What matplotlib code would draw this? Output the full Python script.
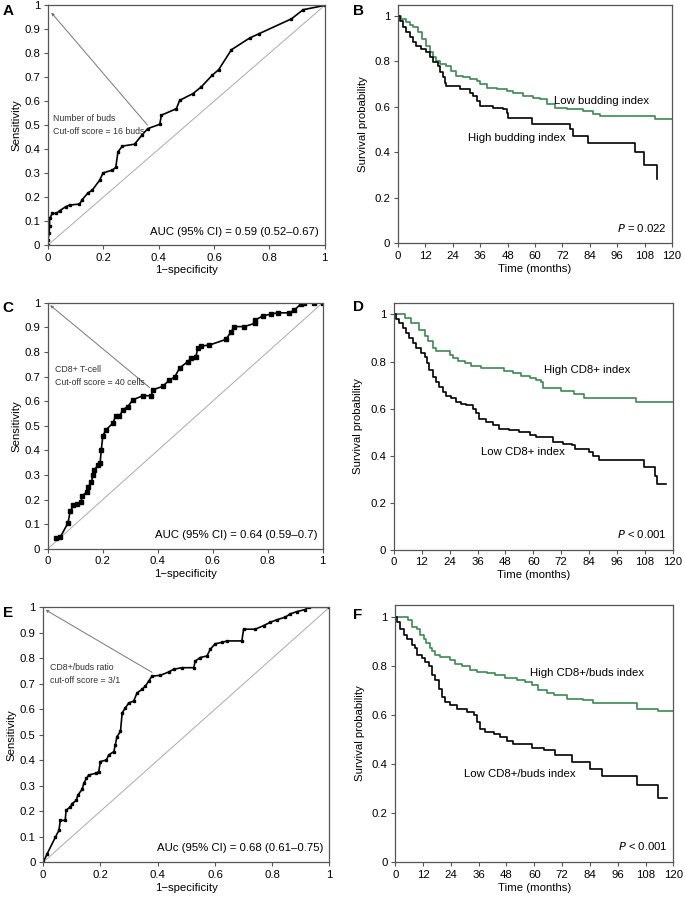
import matplotlib
matplotlib.use("Agg")
import matplotlib.pyplot as plt

plt.rcParams['font.family'] = ['Liberation Sans', 'DejaVu Sans']

GREEN = "#3b8a52"
FRAME = "#555555"
FS = 8.2

# ROC curves (1-specificity, sensitivity)
roc_a_fpr = [0, 0.0, 0.004, 0.006, 0.006, 0.016, 0.03, 0.042, 0.064, 0.078, 0.114, 0.124,
             0.145, 0.16, 0.187, 0.199, 0.233, 0.245, 0.253, 0.269, 0.313, 0.341, 0.361,
             0.404, 0.41, 0.464, 0.476, 0.524, 0.554, 0.593, 0.617, 0.663, 0.729, 0.763,
             0.88, 0.922, 1.0]
roc_a_sens = [0, 0.02, 0.05, 0.08, 0.111, 0.132, 0.132, 0.143, 0.16, 0.167, 0.171, 0.19,
              0.218, 0.229, 0.271, 0.301, 0.313, 0.324, 0.389, 0.413, 0.421, 0.461, 0.486,
              0.504, 0.542, 0.569, 0.604, 0.632, 0.66, 0.708, 0.732, 0.815, 0.864, 0.882,
              0.944, 0.982, 1.0]

roc_c_fpr = [0.03, 0.045, 0.073, 0.081, 0.093, 0.105, 0.12, 0.125, 0.142, 0.145, 0.158,
             0.164, 0.167, 0.184, 0.19, 0.194, 0.2, 0.212, 0.236, 0.246, 0.26, 0.273, 0.291,
             0.309, 0.345, 0.376, 0.382, 0.418, 0.442, 0.461, 0.479, 0.509, 0.521, 0.539,
             0.545, 0.558, 0.588, 0.648, 0.667, 0.679, 0.715, 0.752, 0.755, 0.782, 0.812,
             0.836, 0.879, 0.897, 0.921, 0.933, 0.97, 1.0]
roc_c_sens = [0.045, 0.047, 0.105, 0.153, 0.176, 0.18, 0.19, 0.216, 0.23, 0.25, 0.27,
              0.30, 0.32, 0.34, 0.35, 0.40, 0.46, 0.484, 0.51, 0.538, 0.538, 0.565, 0.578,
              0.605, 0.622, 0.622, 0.646, 0.66, 0.686, 0.697, 0.734, 0.761, 0.774, 0.781,
              0.815, 0.824, 0.828, 0.851, 0.882, 0.903, 0.903, 0.916, 0.93, 0.946, 0.954,
              0.959, 0.959, 0.97, 0.995, 1.0, 1.0, 1.0]

roc_e_fpr = [0, 0.014, 0.043, 0.055, 0.06, 0.077, 0.08, 0.095, 0.101, 0.116, 0.121, 0.136,
             0.142, 0.151, 0.159, 0.183, 0.194, 0.2, 0.221, 0.229, 0.247, 0.252, 0.258,
             0.27, 0.276, 0.287, 0.299, 0.316, 0.328, 0.345, 0.357, 0.369, 0.38, 0.409,
             0.438, 0.456, 0.485, 0.526, 0.531, 0.549, 0.572, 0.584, 0.601, 0.624, 0.642,
             0.694, 0.7, 0.741, 0.77, 0.793, 0.816, 0.845, 0.863, 0.886, 0.915, 0.927, 1.0]
roc_e_sens = [0, 0.033, 0.099, 0.125, 0.164, 0.164, 0.204, 0.217, 0.23, 0.243, 0.263,
              0.286, 0.309, 0.329, 0.342, 0.349, 0.355, 0.395, 0.401, 0.421, 0.434, 0.461,
              0.493, 0.513, 0.586, 0.605, 0.625, 0.632, 0.664, 0.678, 0.691, 0.711, 0.73,
              0.733, 0.746, 0.757, 0.763, 0.763, 0.789, 0.803, 0.809, 0.836, 0.857, 0.862,
              0.868, 0.868, 0.914, 0.914, 0.928, 0.941, 0.951, 0.961, 0.974, 0.983, 0.991,
              1.0, 1.0]

# Kaplan-Meier curves (months, survival)
km_b_low_t = [0, 1.5, 3.7, 5.1, 6.6, 8.8, 10.7, 12.4, 13.9, 15.4, 16.8, 18.3, 21.2, 23.4,
              25.6, 28.5, 31.5, 34.4, 35.9, 38.8, 43.2, 47.6, 50.5, 54.9, 59.3, 62.2, 65.1,
              68.8, 73.9, 81.2, 85.6, 88.5, 112.7, 120]
km_b_low_s = [1, 0.985, 0.971, 0.96, 0.949, 0.927, 0.898, 0.868, 0.839, 0.817, 0.802, 0.788,
              0.78, 0.758, 0.736, 0.729, 0.722, 0.714, 0.7, 0.685, 0.678, 0.668, 0.659,
              0.649, 0.641, 0.634, 0.612, 0.597, 0.59, 0.583, 0.568, 0.561, 0.546, 0.546]
km_b_high_t = [0, 0.7, 2.2, 3.7, 5.1, 6.6, 8.0, 10.2, 12.4, 13.9, 15.4, 17.6, 18.3, 19.8,
               20.5, 21.2, 27.1, 31.5, 32.9, 34.4, 35.9, 41.7, 46.1, 47.6, 48.3, 58.5, 75.4,
               76.8, 83.4, 103.9, 107.6, 113.4]
km_b_high_s = [1, 0.978, 0.949, 0.927, 0.905, 0.883, 0.868, 0.854, 0.839, 0.817, 0.795,
               0.78, 0.751, 0.729, 0.707, 0.693, 0.678, 0.663, 0.649, 0.627, 0.605, 0.597,
               0.59, 0.575, 0.553, 0.524, 0.502, 0.473, 0.44, 0.4, 0.346, 0.283]

km_d_high_t = [0, 4.6, 7.5, 11, 13.2, 14.6, 16.8, 18.2, 24, 25.4, 27.5, 30.4, 33.3, 37.6,
               47.6, 51.2, 54.8, 58.4, 61.2, 63.4, 64.1, 72, 77.7, 82, 104.2, 120]
km_d_high_s = [1, 0.986, 0.964, 0.936, 0.907, 0.886, 0.857, 0.843, 0.829, 0.814, 0.803,
               0.793, 0.783, 0.774, 0.76, 0.75, 0.74, 0.729, 0.721, 0.714, 0.689, 0.674,
               0.66, 0.646, 0.626, 0.626]
km_d_low_t = [0, 1, 2.4, 3.9, 5.3, 6.7, 8.2, 9.6, 11.8, 13.2, 14.2, 15.3, 16.8, 18.2, 19.6,
              21.1, 22.5, 24.7, 26.8, 29, 31.1, 34, 35.4, 36.8, 39.7, 42.6, 45.4, 49.7, 54,
              58.4, 61.2, 68.4, 72.7, 76.7, 78.1, 84.2, 85.6, 88.5, 107.8, 112.5, 113.3, 117]
km_d_low_s = [1, 0.979, 0.964, 0.943, 0.921, 0.9, 0.879, 0.857, 0.836, 0.821, 0.793, 0.764,
              0.736, 0.711, 0.693, 0.671, 0.654, 0.643, 0.629, 0.621, 0.614, 0.6, 0.579,
              0.554, 0.543, 0.529, 0.514, 0.507, 0.5, 0.489, 0.479, 0.457, 0.45, 0.443,
              0.429, 0.414, 0.4, 0.38, 0.35, 0.314, 0.281, 0.281]

km_f_high_t = [0, 5.7, 7.2, 9.3, 10.8, 12.2, 13.4, 14.8, 15.8, 17.2, 19.4, 23.7, 25.9, 28.7,
               32.3, 35.2, 39.5, 43.1, 47.4, 52.5, 56, 58.9, 61.8, 65.4, 68.3, 74, 81.2,
               85.5, 104.2, 113.5, 120]
km_f_high_s = [1, 0.986, 0.959, 0.949, 0.928, 0.908, 0.894, 0.873, 0.86, 0.846, 0.835,
               0.825, 0.807, 0.798, 0.784, 0.777, 0.77, 0.761, 0.75, 0.743, 0.733, 0.722,
               0.702, 0.688, 0.681, 0.667, 0.661, 0.647, 0.626, 0.615, 0.615]
km_f_low_t = [0, 0.7, 2.2, 3.6, 5, 7.2, 8.6, 9.3, 11.5, 12.9, 14.4, 15.8, 17.2, 18.7, 20.1,
              21.6, 23.7, 26.6, 30.9, 33.8, 35.2, 36.6, 38.8, 42.4, 45.3, 48.1, 51, 58.9,
              64, 69, 76.2, 84.1, 89.1, 104.2, 113.5, 117.1]
km_f_low_s = [1, 0.977, 0.949, 0.928, 0.908, 0.887, 0.873, 0.846, 0.832, 0.818, 0.798,
              0.763, 0.743, 0.708, 0.674, 0.653, 0.64, 0.626, 0.612, 0.598, 0.571, 0.543,
              0.532, 0.523, 0.509, 0.495, 0.481, 0.464, 0.458, 0.436, 0.409, 0.378, 0.351,
              0.316, 0.261, 0.261]

roc_yticks = [0, 0.1, 0.2, 0.3, 0.4, 0.5, 0.6, 0.7, 0.8, 0.9, 1]
roc_ylabels = ["0", "0.1", "0.2", "0.3", "0.4", "0.5", "0.6", "0.7", "0.8", "0.9", "1"]
roc_xticks = [0, 0.2, 0.4, 0.6, 0.8, 1]
roc_xlabels = ["0", "0.2", "0.4", "0.6", "0.8", "1"]
km_xticks = list(range(0, 121, 12))
km_yticks = [0, 0.2, 0.4, 0.6, 0.8, 1]
km_ylabels = ["0", "0.2", "0.4", "0.6", "0.8", "1"]


def style_axes(ax):
    for sp in ax.spines.values():
        sp.set_color(FRAME)
        sp.set_linewidth(0.9)
    ax.tick_params(direction="out", length=3, width=0.8, color=FRAME,
                   labelsize=FS, pad=2.5)


def roc_panel(ax, fpr, sens, ms, note, note_xy, arrow_from, arrow_to, auc_text):
    style_axes(ax)
    ax.plot([0, 1], [0, 1], color="#aaaaaa", lw=0.7)
    ax.plot(fpr, sens, color="black", lw=1.2, marker="s", ms=ms, mec="black")
    ax.annotate("", xy=arrow_to, xytext=arrow_from,
                arrowprops=dict(arrowstyle="-|>", color="#777777", lw=0.7,
                                mutation_scale=4, shrinkA=0, shrinkB=0))
    ax.text(note_xy[0], note_xy[1], note, fontsize=6.3, color="#333333",
            va="top", linespacing=1.45)
    ax.text(0.98, 0.035, auc_text, fontsize=FS, ha="right", va="bottom")
    ax.set_xlim(0, 1)
    ax.set_ylim(0, 1)
    ax.set_xticks(roc_xticks)
    ax.set_xticklabels(roc_xlabels)
    ax.set_yticks(roc_yticks)
    ax.set_yticklabels(roc_ylabels)
    ax.set_xlabel("1\u2212specificity", fontsize=FS, labelpad=2)
    ax.set_ylabel("Sensitivity", fontsize=FS, labelpad=2)


def km_panel(ax, t_green, s_green, t_black, s_black, g_lab, g_xy, b_lab, b_xy, p_op):
    style_axes(ax)
    ax.step(t_green, s_green, where="post", color=GREEN, lw=1.2)
    ax.step(t_black, s_black, where="post", color="black", lw=1.2)
    ax.text(g_xy[0], g_xy[1], g_lab, fontsize=FS, va="center")
    ax.text(b_xy[0], b_xy[1], b_lab, fontsize=FS, va="center")
    ax.text(117.5, 0.04, "$P$" + p_op, fontsize=FS, ha="right", va="bottom")
    ax.set_xlim(0, 120)
    ax.set_ylim(0, 1.05)
    ax.set_xticks(km_xticks)
    ax.set_yticks(km_yticks)
    ax.set_yticklabels(km_ylabels)
    ax.set_xlabel("Time (months)", fontsize=FS, labelpad=2)
    ax.set_ylabel("Survival probability", fontsize=FS, labelpad=5)


fig = plt.figure(figsize=(6.85, 9.01), dpi=100)

ax_a = fig.add_axes([0.070, 0.728, 0.404, 0.266])
ax_b = fig.add_axes([0.581, 0.730, 0.400, 0.265])
ax_c = fig.add_axes([0.070, 0.391, 0.401, 0.273])
ax_d = fig.add_axes([0.575, 0.390, 0.407, 0.274])
ax_e = fig.add_axes([0.063, 0.043, 0.418, 0.283])
ax_f = fig.add_axes([0.577, 0.043, 0.406, 0.286])

roc_panel(ax_a, roc_a_fpr, roc_a_sens, 2.0, "Number of buds\nCut-off score = 16 buds",
          (0.02, 0.545), (0.36, 0.50), (0.012, 0.97), "AUC (95% CI) = 0.59 (0.52\u20130.67)")
roc_panel(ax_c, roc_c_fpr, roc_c_sens, 2.3, "CD8+ T-cell\nCut-off score = 40 cells",
          (0.025, 0.745), (0.37, 0.655), (0.008, 0.99), "AUC (95% CI) = 0.64 (0.59\u20130.7)")
roc_panel(ax_e, roc_e_fpr, roc_e_sens, 2.0, "CD8+/buds ratio\ncut-off score = 3/1",
          (0.023, 0.78), (0.38, 0.745), (0.008, 0.99), "AUc (95% CI) = 0.68 (0.61\u20130.75)")

km_panel(ax_b, km_b_low_t, km_b_low_s, km_b_high_t, km_b_high_s,
         "Low budding index", (68.5, 0.627), "High budding index", (30.5, 0.463), " = 0.022")
km_panel(ax_d, km_d_high_t, km_d_high_s, km_d_low_t, km_d_low_s,
         "High CD8+ index", (64.5, 0.765), "Low CD8+ index", (37.5, 0.414), " < 0.001")
km_panel(ax_f, km_f_high_t, km_f_high_s, km_f_low_t, km_f_low_s,
         "High CD8+/buds index", (58, 0.77), "Low CD8+/buds index", (29.5, 0.36), " < 0.001")

for lab, x, y in [("A", 0.004, 0.988), ("B", 0.515, 0.988), ("C", 0.004, 0.658),
                  ("D", 0.515, 0.659), ("E", 0.004, 0.320), ("F", 0.515, 0.317)]:
    fig.text(x, y, lab, fontsize=11, fontweight="bold", va="center")

fig.savefig("out.png", dpi=100)
